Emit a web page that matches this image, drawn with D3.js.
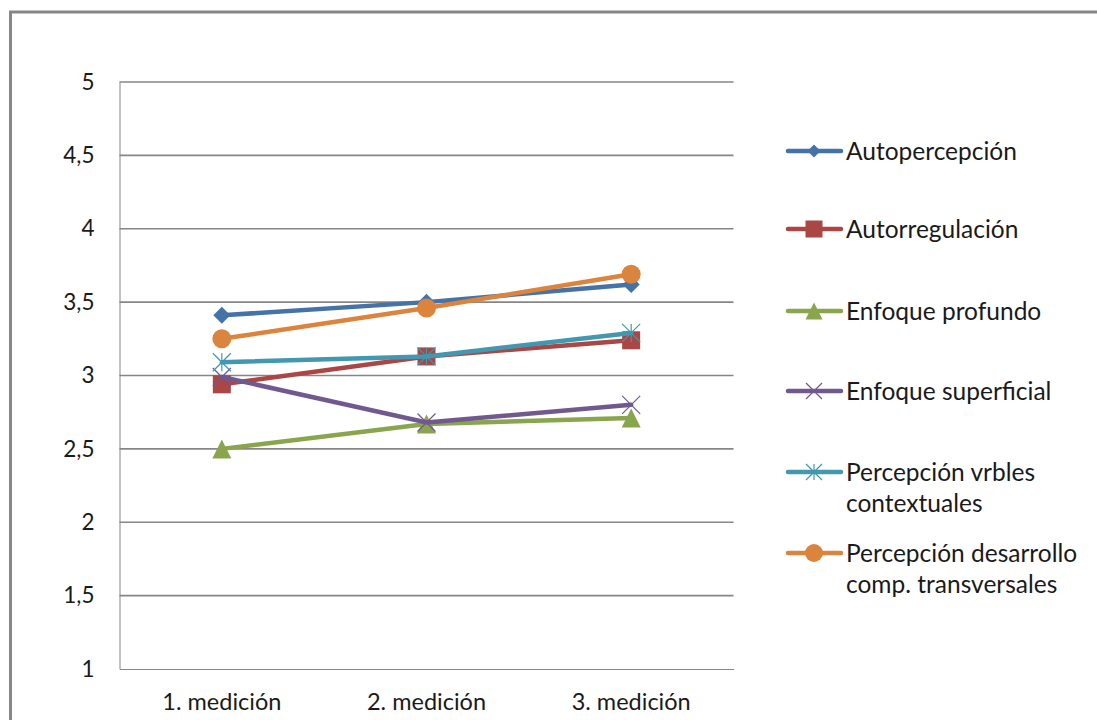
<!DOCTYPE html>
<html>
<head>
<meta charset="utf-8">
<script src="https://cdn.jsdelivr.net/npm/d3@7"></script>
<style>
  html, body { margin: 0; padding: 0; background: #fff; }
  svg { display: block; }
  text { font-family: Lato, "Open Sans", sans-serif; fill: #1a1a1a; }
</style>
</head>
<body>
<svg id="chart" width="1097" height="720"></svg>
<script>
// Measurement rounds on the x axis
const categories = ["1. medición", "2. medición", "3. medición"];

// Mean score per scale at each measurement
const autopercepcion      = [3.41, 3.50, 3.62];
const autorregulacion     = [2.94, 3.13, 3.24];
const enfoqueProfundo     = [2.50, 2.67, 2.71];
const enfoqueSuperficial  = [2.99, 2.68, 2.80];
const percepcionVrbles    = [3.09, 3.13, 3.29];
const percepcionDesarrollo = [3.25, 3.46, 3.69];

const seriesNames = [
  "Autopercepción",
  "Autorregulación",
  "Enfoque profundo",
  "Enfoque superficial",
  "Percepción vrbles contextuales",
  "Percepción desarrollo comp. transversales"
];
// Legend labels broken over lines
const legendLines = [
  ["Autopercepción"],
  ["Autorregulación"],
  ["Enfoque profundo"],
  ["Enfoque superficial"],
  ["Percepción vrbles", "contextuales"],
  ["Percepción desarrollo", "comp. transversales"]
];

const yTicks = [1, 1.5, 2, 2.5, 3, 3.5, 4, 4.5, 5];

const series = [
  { name: seriesNames[0], values: autopercepcion,       color: "#4572A7", marker: "diamond" },
  { name: seriesNames[1], values: autorregulacion,      color: "#AA4643", marker: "square" },
  { name: seriesNames[2], values: enfoqueProfundo,      color: "#89A54E", marker: "triangle" },
  { name: seriesNames[3], values: enfoqueSuperficial,   color: "#71588F", marker: "x" },
  { name: seriesNames[4], values: percepcionVrbles,     color: "#4198AF", marker: "star" },
  { name: seriesNames[5], values: percepcionDesarrollo, color: "#DB843D", marker: "circle" }
];

const svg = d3.select("#chart");

// Outer chart frame (runs past the right and bottom edges)
svg.append("path")
  .attr("d", "M10.5,1200 L10.5,12 L1200,12")
  .attr("fill", "none")
  .attr("stroke", "#878787")
  .attr("stroke-width", 3);

const plot = { left: 119.5, right: 733.5, top: 82, bottom: 669 };

const x = d3.scaleBand().domain(categories).range([plot.left, plot.right]);
const cx = d => x(d) + x.bandwidth() / 2;
const y = d3.scaleLinear().domain([1, 5]).range([plot.bottom, plot.top]);

// Horizontal gridlines
svg.append("g")
  .selectAll("line")
  .data(yTicks.filter(t => t > 1))
  .join("line")
  .attr("x1", plot.left).attr("x2", plot.right)
  .attr("y1", d => y(d)).attr("y2", d => y(d))
  .attr("stroke", "#868686")
  .attr("stroke-width", 1.6);

// Left and bottom axis lines
const yAxis = d3.axisLeft(y).tickValues(yTicks).tickSize(0).tickPadding(25)
  .tickFormat(d => d3.format("")(d).replace(".", ","));
const gy = svg.append("g").attr("transform", `translate(${plot.left},0)`).call(yAxis);
gy.select(".domain").attr("stroke", "#868686").attr("stroke-width", 1);
gy.selectAll("text").attr("font-size", 22.5).attr("font-family", "Lato, sans-serif").attr("fill", "#1a1a1a");

const xAxis = d3.axisBottom(x).tickSize(0).tickPadding(24);
const gx = svg.append("g").attr("transform", `translate(0,${plot.bottom})`).call(xAxis);
gx.select(".domain").attr("stroke", "#868686").attr("stroke-width", 1);
gx.selectAll("text").attr("font-size", 23.5).attr("font-family", "Lato, sans-serif").attr("fill", "#1a1a1a");

// Marker drawing
function drawMarker(g, type, color, px, py, s) {
  const h = s / 2;
  if (type === "diamond") {
    g.append("path").attr("d", `M${px},${py - h} L${px + h},${py} L${px},${py + h} L${px - h},${py} Z`).attr("fill", color);
  } else if (type === "square") {
    g.append("rect").attr("x", px - h).attr("y", py - h).attr("width", s).attr("height", s).attr("fill", color);
  } else if (type === "triangle") {
    g.append("path").attr("d", `M${px},${py - h} L${px + h},${py + h} L${px - h},${py + h} Z`).attr("fill", color);
  } else if (type === "circle") {
    g.append("circle").attr("cx", px).attr("cy", py).attr("r", h).attr("fill", color);
  } else if (type === "x" || type === "star") {
    const p = `M${px - h},${py - h} L${px + h},${py + h} M${px + h},${py - h} L${px - h},${py + h}` +
      (type === "star" ? ` M${px},${py - h} L${px},${py + h}` : "");
    g.append("path").attr("d", p).attr("stroke", color).attr("stroke-width", 1.2).attr("fill", "none");
  }
}

const markerSize = { diamond: 17, square: 18, triangle: 19, circle: 19, x: 18, star: 18 };

const line = d3.line().x((d, i) => cx(categories[i])).y(d => y(d));

series.forEach(s => {
  const g = svg.append("g");
  g.append("path")
    .datum(s.values)
    .attr("d", line)
    .attr("fill", "none")
    .attr("stroke", s.color)
    .attr("stroke-width", 4.5)
    .attr("stroke-linecap", "round");
  s.values.forEach((v, i) => drawMarker(g, s.marker, s.color, cx(categories[i]), y(v), markerSize[s.marker]));
});

// Legend
const legendRows = [151, 229, 311, 391, 472, 553];
const legendMarker = { diamond: 13, square: 17, triangle: 17, circle: 18, x: 16, star: 16 };
series.forEach((s, i) => {
  const g = svg.append("g");
  const ly = legendRows[i];
  g.append("line")
    .attr("x1", 788).attr("x2", 841)
    .attr("y1", ly).attr("y2", ly)
    .attr("stroke", s.color).attr("stroke-width", 4.5).attr("stroke-linecap", "round");
  drawMarker(g, s.marker, s.color, 814, ly, legendMarker[s.marker]);
  const t = g.append("text")
    .attr("x", 846)
    .attr("y", ly)
    .attr("font-size", 24.5);
  legendLines[i].forEach((ln, j) => {
    t.append("tspan").attr("x", 846).attr("dy", j === 0 ? "0.36em" : 31.5).text(ln);
  });
});
</script>
</body>
</html>
